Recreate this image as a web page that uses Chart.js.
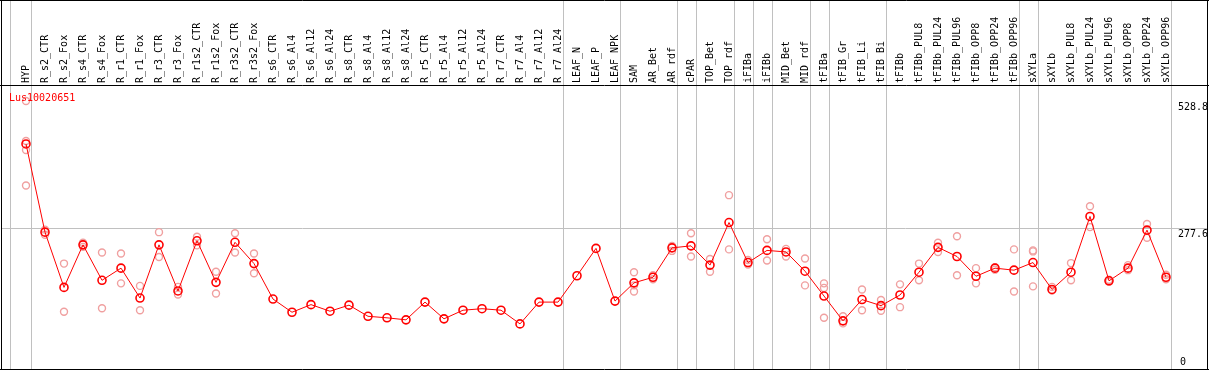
<!DOCTYPE html>
<html>
<head>
<meta charset="utf-8">
<script src="https://cdn.jsdelivr.net/npm/chart.js@4/dist/chart.umd.min.js"></script>
<style>
html,body{margin:0;padding:0;background:#fff;}
#wrap{width:1209px;height:370px;}
</style>
</head>
<body>
<div id="wrap"><canvas id="c" width="1209" height="370"></canvas></div>
<script>
const geneName = "Lus10020651";
const categories = ["HYP","R_s2_CTR","R_s2_Fox","R_s4_CTR","R_s4_Fox","R_r1_CTR","R_r1_Fox","R_r3_CTR","R_r3_Fox","R_r1s2_CTR","R_r1s2_Fox","R_r3s2_CTR","R_r3s2_Fox","R_s6_CTR","R_s6_Al4","R_s6_Al12","R_s6_Al24","R_s8_CTR","R_s8_Al4","R_s8_Al12","R_s8_Al24","R_r5_CTR","R_r5_Al4","R_r5_Al12","R_r5_Al24","R_r7_CTR","R_r7_Al4","R_r7_Al12","R_r7_Al24","LEAF_N","LEAF_P","LEAF_NPK","SAM","AR_Bet","AR_rdf","cPAR","TOP_Bet","TOP_rdf","iFIBa","iFIBb","MID_Bet","MID_rdf","tFIBa","tFIB_Gr","tFIB_Li","tFIB_Bi","tFIBb","tFIBb_PUL8","tFIBb_PUL24","tFIBb_PUL96","tFIBb_OPP8","tFIBb_OPP24","tFIBb_OPP96","sXYLa","sXYLb","sXYLb_PUL8","sXYLb_PUL24","sXYLb_PUL96","sXYLb_OPP8","sXYLb_OPP24","sXYLb_OPP96"];
const meanValues = [444,270,161,245,175,199,140,245,154,253,171,250,208,138,112,127,114,126,104,101,97,132,99,116,119,116,89,132,132,184,238,134,170,181,239,243,205,289,210,234,231,193,144,95,137,125,146,191,240,222,183,199,195,210,157,191,301,174,199,274,181];
const repA = [528.8,275,208,249,230,228,164,270,162,261,192,268,228,null,null,null,null,null,null,null,null,null,null,null,null,null,null,null,null,null,null,null,191,185,243,268,217,343,215,256,237,218,169,104,157,136,167,208,249,262,199,201,236,234,162,209,321,176,205,286,186];
const repB = [450,265,113,241,120,169,116,221,147,244,149,230,189,null,null,null,null,null,null,null,null,null,null,null,null,null,null,null,null,null,null,null,165,177,233,222,192,236,206,214,222,165,160,90,116,115,122,175,231,185,169,196,153,232,155,175,280,172,195,259,177];
const repC = [432,null,null,null,null,null,null,null,null,null,null,null,null,null,null,null,null,null,null,null,null,null,null,null,null,null,null,null,null,null,null,null,153,null,null,null,null,null,null,null,null,null,101,null,null,null,null,null,null,null,null,null,null,163,null,null,null,null,null,null,null];
const repD = [362,null,null,null,null,null,null,null,null,null,null,null,null,null,null,null,null,null,null,null,null,null,null,null,null,null,null,null,null,null,null,null,null,null,null,null,null,null,null,null,null,null,null,null,null,null,null,null,null,null,null,null,null,null,null,null,null,null,null,null,null];
const groupEnds = [0,28,31,34,35,37,38,39,41,42,45,52,53,60];
const yTickValues = [0,277.6,528.8];
const yTickLabels = ["0","277.6","528.8"];

const repPoints = [];
[repA,repB,repC,repD].forEach(arr => arr.forEach((v,i) => { if (v !== null) repPoints.push({x:i, y:v}); }));
const meanPoints = meanValues.map((v,i) => ({x:i, y:v}));

const STEP = 19;
const xMin = -25/STEP;
const xMax = xMin + 1206/STEP;
const MONO = '"DejaVu Sans Mono", monospace';

const decor = {
  id: 'decor',
  beforeDatasetsDraw(chart) {
    const ctx = chart.ctx, xs = chart.scales.x, ca = chart.chartArea;
    ctx.save();
    ctx.strokeStyle = '#c0c0c0';
    ctx.lineWidth = 1;
    const seps = [-16/STEP].concat(groupEnds.map(b => b + 4.5/STEP));
    seps.forEach(v => {
      const px = Math.round(xs.getPixelForValue(v)) + 0.5;
      ctx.beginPath(); ctx.moveTo(px, 0); ctx.lineTo(px, ca.bottom); ctx.stroke();
    });
    ctx.restore();
  },
  afterDraw(chart) {
    const ctx = chart.ctx, ys = chart.scales.y;
    ctx.save();
    ctx.font = '10px ' + MONO;
    ctx.fillStyle = '#000';
    ctx.textAlign = 'left';
    yTickValues.forEach((v, k) => {
      const py = ys.getPixelForValue(v);
      if (v === 0) { ctx.textBaseline = 'middle'; ctx.fillText(yTickLabels[k], 1180, py - 7); }
      else { ctx.textBaseline = 'top'; ctx.fillText(yTickLabels[k], 1178, py + 1); }
    });
    ctx.fillStyle = '#ff0000';
    ctx.textBaseline = 'middle';
    ctx.fillText(geneName, 9, 98);
    ctx.strokeStyle = '#000';
    ctx.lineWidth = 1;
    ctx.beginPath();
    ctx.moveTo(1.5, 0); ctx.lineTo(1.5, 370);
    ctx.moveTo(1207.5, 0); ctx.lineTo(1207.5, 370);
    ctx.moveTo(0, 0.5); ctx.lineTo(1209, 0.5);
    ctx.moveTo(0, 85.5); ctx.lineTo(1209, 85.5);
    ctx.moveTo(0, 369.5); ctx.lineTo(1209, 369.5);
    ctx.stroke();
    ctx.restore();
  }
};

new Chart(document.getElementById('c'), {
  type: 'scatter',
  data: {
    datasets: [
      {
        label: 'mean',
        data: meanPoints,
        showLine: true,
        borderColor: '#ff0000',
        borderWidth: 1,
        pointRadius: 4,
        pointHoverRadius: 4,
        pointBorderColor: '#ff0000',
        pointBackgroundColor: 'rgba(0,0,0,0)',
        pointBorderWidth: 1.6,
        tension: 0,
        clip: false
      },
      {
        label: 'replicates',
        data: repPoints,
        showLine: false,
        pointRadius: 3.5,
        pointHoverRadius: 3.5,
        pointBorderColor: '#f0a0a0',
        pointBackgroundColor: 'rgba(0,0,0,0)',
        pointBorderWidth: 1.4,
        clip: false
      }
    ]
  },
  options: {
    responsive: false,
    animation: false,
    devicePixelRatio: 1,
    layout: { autoPadding: false, padding: { left: 1, right: 2, top: 0, bottom: 1 } },
    plugins: { legend: { display: false }, tooltip: { enabled: false }, title: { display: false } },
    events: [],
    scales: {
      x: {
        type: 'linear',
        position: 'top',
        min: xMin,
        max: xMax,
        afterBuildTicks(scale) { scale.ticks = categories.map((c, i) => ({ value: i })); },
        afterFit(scale) { scale.height = 86; scale.paddingLeft = 0; scale.paddingRight = 0; },
        grid: { display: false, drawTicks: false },
        border: { display: false },
        ticks: {
          autoSkip: false,
          minRotation: 90,
          maxRotation: 90,
          padding: 3,
          labelOffset: 12,
          color: '#000',
          font: { family: MONO, size: 10 },
          callback: (v) => categories[v]
        }
      },
      y: {
        type: 'linear',
        position: 'right',
        min: 0,
        max: 558.4,
        afterBuildTicks(scale) { scale.ticks = yTickValues.map(v => ({ value: v })); },
        afterFit(scale) { scale.width = 0; scale.paddingTop = 0; scale.paddingBottom = 0; },
        grid: {
          drawTicks: false,
          color: (c) => (c.tick && c.tick.value === 277.6) ? '#c0c0c0' : 'rgba(0,0,0,0)',
          lineWidth: 1
        },
        border: { display: false },
        ticks: { display: false }
      }
    }
  },
  plugins: [decor]
});
</script>
</body>
</html>
